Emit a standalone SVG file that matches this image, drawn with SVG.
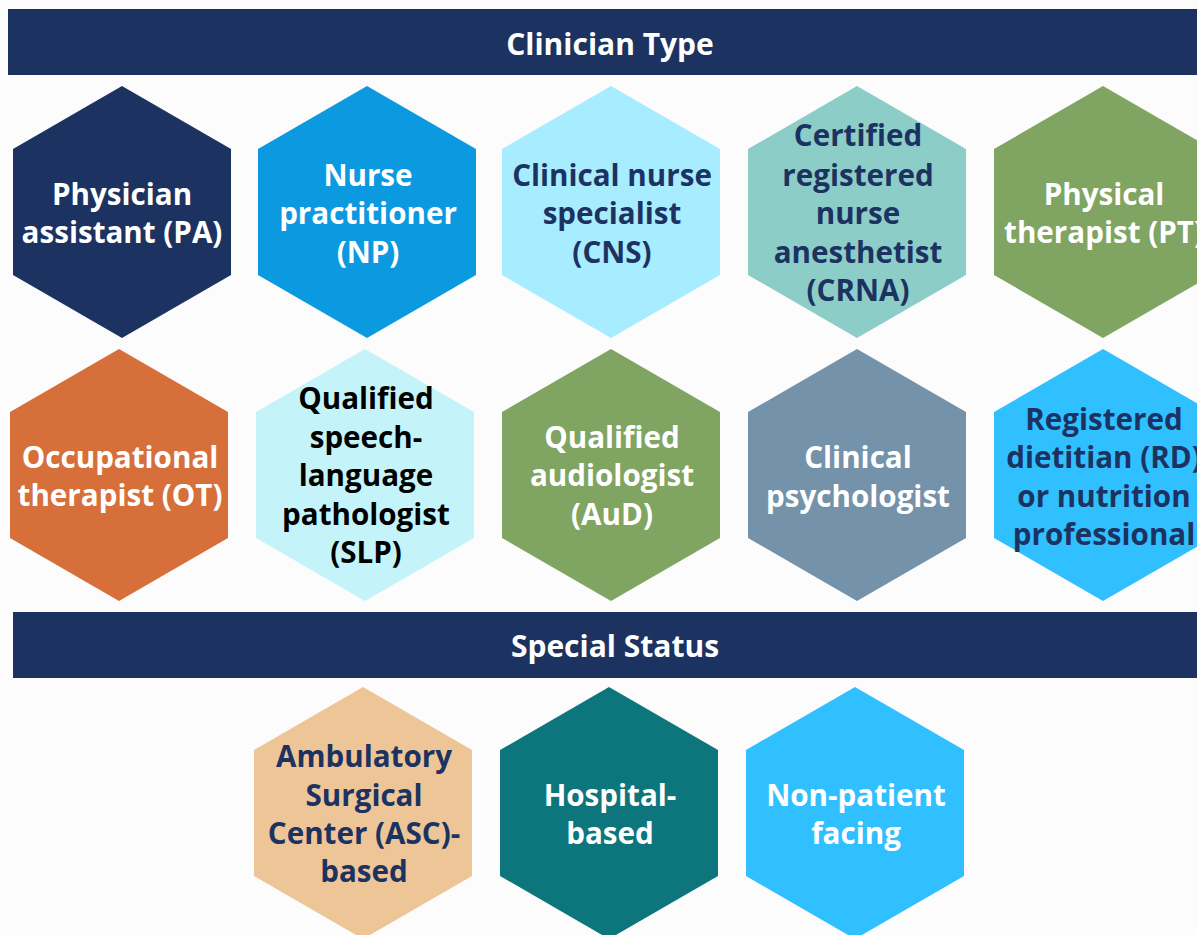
<svg xmlns="http://www.w3.org/2000/svg" width="1197" height="935" viewBox="0 0 1197 935">
<style>
text{font-family:"Open Sans","Noto Sans","Liberation Sans",sans-serif;font-weight:700;font-size:29.6px;text-anchor:middle}
.w{fill:#fff}.n{fill:#1c3361}.k{fill:#000}
.t{font-size:30px}
</style>
<defs><polygon id="hex" points="0,-126 109,-63 109,63 0,126 -109,63 -109,-63"/></defs>
<rect width="1197" height="935" fill="#fcfcfc"/>
<g id="header-clinician"><rect x="8" y="9" width="1189" height="66" fill="#1c3361"/><text class="w t" x="610" y="55">Clinician Type</text></g>
<g id="header-special"><rect x="13" y="612" width="1184" height="66" fill="#1c3361"/><text class="w t" x="615" y="657">Special Status</text></g>
<g id="n-pa"><use href="#hex" x="122" y="212" fill="#1c3361"/><text class="w" x="122" y="205">Physician</text><text class="w" x="122" y="243">assistant (PA)</text></g>
<g id="n-np"><use href="#hex" x="367" y="212" fill="#0b9ae0"/><text class="w" x="368" y="186">Nurse</text><text class="w" x="368" y="224">practitioner</text><text class="w" x="368" y="263">(NP)</text></g>
<g id="n-cns"><use href="#hex" x="611" y="212" fill="#a8ecff"/><text class="n" x="612" y="186">Clinical nurse</text><text class="n" x="612" y="224">specialist</text><text class="n" x="612" y="263">(CNS)</text></g>
<g id="n-crna"><use href="#hex" x="857" y="212" fill="#8dcdc8"/><text class="n" x="858" y="146">Certified</text><text class="n" x="858" y="186">registered</text><text class="n" x="858" y="224">nurse</text><text class="n" x="858" y="263">anesthetist</text><text class="n" x="858" y="301">(CRNA)</text></g>
<g id="n-pt"><use href="#hex" x="1103" y="212" fill="#80a562"/><text class="w" x="1104" y="205">Physical</text><text class="w" x="1104" y="243">therapist (PT)</text></g>
<g id="n-ot"><use href="#hex" x="119" y="475" fill="#d66f3a"/><text class="w" x="120" y="468">Occupational</text><text class="w" x="120" y="506">therapist (OT)</text></g>
<g id="n-slp"><use href="#hex" x="365" y="475" fill="#c4f4f9"/><text class="k" x="366" y="409">Qualified</text><text class="k" x="366" y="448">speech-</text><text class="k" x="366" y="486">language</text><text class="k" x="366" y="525">pathologist</text><text class="k" x="366" y="563">(SLP)</text></g>
<g id="n-aud"><use href="#hex" x="611" y="475" fill="#80a562"/><text class="w" x="612" y="448">Qualified</text><text class="w" x="612" y="486">audiologist</text><text class="w" x="612" y="525">(AuD)</text></g>
<g id="n-psych"><use href="#hex" x="857" y="475" fill="#7492aa"/><text class="w" x="858" y="468">Clinical</text><text class="w" x="858" y="507">psychologist</text></g>
<g id="n-rd"><use href="#hex" x="1103" y="475" fill="#30bfff"/><text class="n" x="1104" y="430">Registered</text><text class="n" x="1104" y="468">dietitian (RD)</text><text class="n" x="1104" y="507">or nutrition</text><text class="n" x="1104" y="545">professional</text></g>
<g id="n-asc"><use href="#hex" x="363" y="813" fill="#eec597"/><text class="n" x="364" y="767">Ambulatory</text><text class="n" x="364" y="806">Surgical</text><text class="n" x="364" y="844">Center (ASC)-</text><text class="n" x="364" y="882">based</text></g>
<g id="n-hosp"><use href="#hex" x="609" y="813" fill="#0c767c"/><text class="w" x="610" y="806">Hospital-</text><text class="w" x="610" y="844">based</text></g>
<g id="n-npf"><use href="#hex" x="855" y="813" fill="#30bfff"/><text class="w" x="856" y="806">Non-patient</text><text class="w" x="856" y="844">facing</text></g>
<g id="connectors"/>
</svg>
